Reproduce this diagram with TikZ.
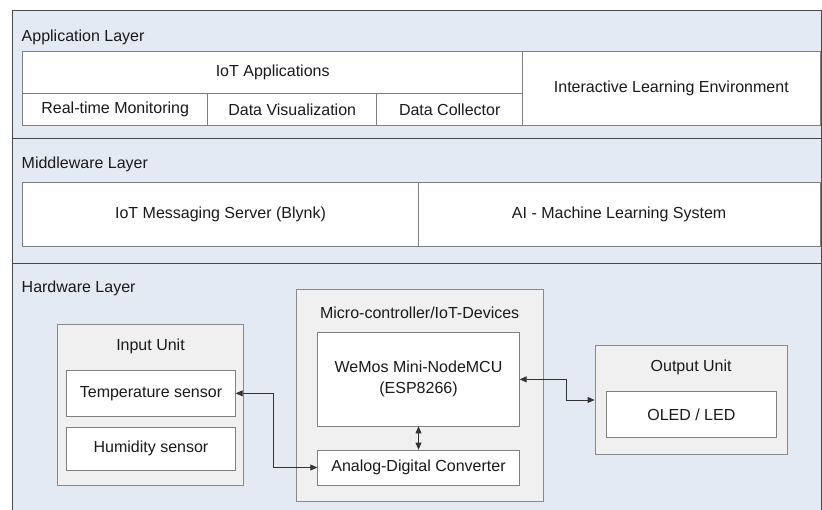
\documentclass[tikz,border=0pt]{standalone}
\usepackage{fontspec}
\setmainfont{Liberation Sans}
\usetikzlibrary{arrows.meta}
\definecolor{layerbg}{HTML}{E3EAF4}
\definecolor{layeredge}{HTML}{4A4A4A}
\definecolor{unitbg}{HTML}{F0F0F0}
\definecolor{unitedge}{HTML}{8A8A8A}
\definecolor{boxedge}{HTML}{7F7F7F}
\definecolor{wire}{HTML}{333333}
\definecolor{ink}{HTML}{1A1A1A}
\tikzset{
  every node/.style={font=\fontsize{16}{21}\selectfont, text=ink, inner sep=0pt},
  layer/.style={rectangle, draw=layeredge, fill=layerbg, line width=0.9pt},
  whitebox/.style={rectangle, draw=boxedge, fill=white, line width=0.8pt, align=center},
  unitbox/.style={rectangle, draw=unitedge, fill=unitbg, line width=0.8pt},
  layertitle/.style={anchor=base west},
  wirelink/.style={draw=wire, line width=0.8pt, {Triangle[length=7pt,width=6pt]}-{Triangle[length=7pt,width=6pt]}},
}
\begin{document}
\begin{tikzpicture}[x=1pt, y=-1pt]
  \useasboundingbox (0,0) rectangle (822,509);
  \fill[white] (0,0) rectangle (822,509);

  % the three layers
  \node[layer, minimum width=809pt, minimum height=128pt] (app) at (416.5,74) {};
  \node[layer, minimum width=809pt, minimum height=125pt] (mid) at (416.5,200.5) {};
  \node[layer, minimum width=809pt, minimum height=256pt] (hw)  at (416.5,391) {};

  \node[layertitle] (apptitle) at (21.5,41) {Application Layer};
  \node[layertitle] (midtitle) at (21.5,168) {Middleware Layer};
  \node[layertitle] (hwtitle)  at (21.5,292) {Hardware Layer};

  % application layer
  \node[whitebox, minimum width=500pt, minimum height=41.6pt] (iotapps) at (272.7,72.5) {IoT Applications};
  \node[whitebox, minimum width=185pt, minimum height=32.4pt] (rtm) at (115.2,109.5) {Real-time Monitoring};
  \node[whitebox, minimum width=169pt, minimum height=32.4pt] (dvis) at (292.2,109.5) {Data Visualization};
  \node[whitebox, minimum width=146pt, minimum height=32.4pt] (dcol) at (449.7,109.5) {Data Collector};
  \node[whitebox, minimum width=297.3pt, minimum height=74pt] (ile) at (671.35,88.7) {Interactive Learning Environment};

  % middleware layer
  \node[whitebox, minimum width=395.6pt, minimum height=64pt] (msg) at (220.5,214.7) {IoT Messaging Server (Blynk)};
  \node[whitebox, minimum width=401.7pt, minimum height=64pt] (ai) at (619.15,214.7) {AI - Machine Learning System};

  % hardware layer: input unit
  \node[unitbox, minimum width=185.6pt, minimum height=161.3pt] (input) at (150.5,404.65) {};
  \node (inputtitle) at (150.5,346.7) {Input Unit};
  \node[whitebox, minimum width=168.6pt, minimum height=46.7pt] (temp) at (151,393.35) {Temperature sensor};
  \node[whitebox, minimum width=168.6pt, minimum height=42.7pt] (hum) at (151,448.65) {Humidity sensor};

  % hardware layer: micro-controller
  \node[unitbox, minimum width=247.3pt, minimum height=212.4pt] (mcu) at (419.65,395.5) {};
  \node (mcutitle) at (419.65,312.7) {Micro-controller/IoT-Devices};
  \node[whitebox, minimum width=201.6pt, minimum height=93.3pt] (wemos) at (418.5,379.35) {WeMos Mini-NodeMCU\\(ESP8266)};
  \node[whitebox, minimum width=201.6pt, minimum height=35pt] (adc) at (418.5,467.5) {Analog-Digital Converter};

  % hardware layer: output unit
  \node[unitbox, minimum width=192.3pt, minimum height=108.6pt] (output) at (691.15,400) {};
  \node (outputtitle) at (691.15,367.3) {Output Unit};
  \node[whitebox, minimum width=169.3pt, minimum height=46pt] (oled) at (691.35,414.7) {OLED / LED};

  % connections
  \draw[wirelink] (temp.east) -- ++(37.4,0) |- (adc.west);
  \draw[wirelink] (wemos.south) -- (adc.north);
  \draw[wirelink] (wemos.east) -- ++(46.7,0) |- (output.west);
\end{tikzpicture}
\end{document}
